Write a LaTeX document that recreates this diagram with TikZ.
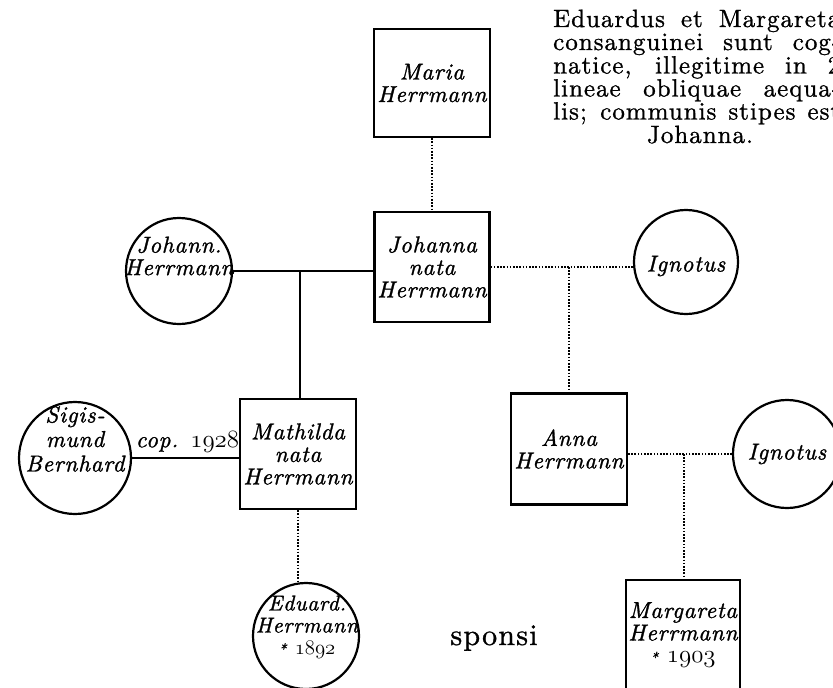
\documentclass[tikz,border=0pt]{standalone}
\usepackage{fontspec}
% spaced, slightly emboldened Latin Modern: italic for the persons, roman for the note
\newfontfamily\namefam{lmroman10-italic.otf}[LetterSpace=3.5, FakeBold=1.3]
\newfontfamily\notefam{lmroman10-regular.otf}[LetterSpace=4, FakeBold=1]
\newcommand\namefont{\namefam\fontsize{23}{22.5}\selectfont}
\newcommand\smallnamefont{\namefam\fontsize{21.5}{22}\selectfont}
\newcommand\notefont{\notefam\fontsize{25}{23}\selectfont}
\newcommand\sponsifont{\notefam\fontsize{30}{30}\selectfont}
% old-style figures taken from the math italic font
\newcommand\osn[1]{{\usefont{OML}{cmm}{m}{it}#1}}
\newcommand\birth[1]{{\fontsize{15}{15}\selectfont *}\ \osn{#1}}

\begin{document}
\begin{tikzpicture}[x=1pt,y=-1pt,
  box/.style={draw, line width=2.2pt, rectangle, inner sep=0pt, font=\namefont, align=center},
  ring/.style={draw, line width=2.2pt, circle, inner sep=0pt},
  names/.style={inner sep=0pt, font=\namefont, align=center},
  notes/.style={inner sep=0pt, font=\notefont},
  tie/.style={line width=1.8pt},
  kin/.style={line width=1.9pt, dash pattern=on 1.6pt off 1.6pt},
]
\useasboundingbox (0,0) rectangle (833,688);
\fill[white] (0,0) rectangle (833,688);

% the persons drawn as boxes
\node[box, minimum width=116pt, minimum height=108pt] (maria) at (432,83) {Maria\\Herrmann};
\node[box, minimum width=115pt, minimum height=110pt] (johanna) at (432,267) {Johanna\\nata\\Herrmann};
\node[box, minimum width=116pt, minimum height=110pt] (mathilda) at (298,454) {Mathilda\\nata\\Herrmann};
\node[box, minimum width=116pt, minimum height=111pt] (anna) at (569,449) {Anna\\Herrmann};
\node[box, minimum width=114pt, minimum height=110pt] (margareta) at (683,635) {Margareta\\Herrmann\\\birth{1903}};

% the persons drawn as circles, with their names
\node[ring, minimum size=106pt] (johann) at (179,271) {};
\node[names] (johann-t) at (179,256) {Johann.\\Herrmann};
\node[ring, minimum size=112pt] (sigismund) at (75,458) {};
\node[names] (sigismund-t) at (75,439) {Sigis-\\[2pt]mund\\[2pt]Bernhard};
\node[ring, minimum size=106pt] (eduard) at (306,636) {};
\node[names, font=\smallnamefont] (eduard-t) at (307,627) {Eduard.\\Herrmann\\\birth{1892}};
\node[ring, minimum size=104pt] (ignotus1) at (686,262) {};
\node[names] (ignotus1-t) at (686,266) {Ignotus};
\node[ring, minimum size=108pt] (ignotus2) at (787,454) {};
\node[names] (ignotus2-t) at (787,454) {Ignotus};

% marriages and descents
\draw[tie] (johann.east) -- (johann.east -| johanna.west);
\coordinate (m1) at (300,271);
\draw[tie] (m1) -- (m1 |- mathilda.north);
\draw[tie] (sigismund.east) -- (sigismund.east -| mathilda.west)
  node[midway, above=5pt, xshift=2pt, inner sep=0pt, font=\namefont] (cop) {cop. \osn{1928}};
\draw[kin] (maria.south) -- (johanna.north);
\draw[kin] (mathilda.south) -- (mathilda.south |- eduard.north);
\draw[kin] (johanna.east) -- (johanna.east -| ignotus1.west);
\coordinate (m2) at (569,267);
\draw[kin] (m2) -- (anna.north);
\draw[kin] (ignotus2.west) -- (ignotus2.west -| anna.east);
\coordinate (m3) at (684,454);
\draw[kin] (m3) -- (m3 |- margareta.north);

% the note, set justified
\node[notes, anchor=base west] (n1) at (553,27) {\makebox[287pt][s]{Eduardus et Margareta}};
\node[notes, anchor=base west] (n2) at (553,50) {\makebox[287pt][s]{consanguinei sunt cog-}};
\node[notes, anchor=base west] (n3) at (553,73.5) {\makebox[287pt][s]{natice, illegitime in 2}};
\node[notes, anchor=base west] (n4) at (553,96.5) {\makebox[287pt][s]{lineae obliquae aequa-}};
\node[notes, anchor=base west] (n5) at (553,119.5) {\makebox[287pt][s]{lis; communis stipes est}};
\node[notes, anchor=base] (n6) at (700,143) {Johanna.};

\node[inner sep=0pt, font=\sponsifont, anchor=base] (sponsi) at (494,645) {sponsi};
\end{tikzpicture}
\end{document}
